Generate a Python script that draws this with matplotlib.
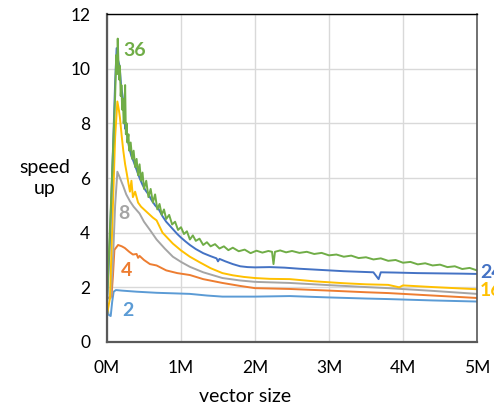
import numpy as np
import matplotlib
matplotlib.use("Agg")
import matplotlib.pyplot as plt

plt.rcParams['font.family'] = ['Lato', 'DejaVu Sans']

# vector size in millions, speed up per thread count
x2 = [0.0, 0.02, 0.05, 0.07, 0.09, 0.12, 0.2, 0.4, 0.67, 0.9, 1.12, 1.35, 1.56, 2.0, 2.47, 3.0, 3.5, 3.8, 4.4, 5.0]
y2 = [1.45, 1.0, 0.95, 1.47, 1.84, 1.9, 1.88, 1.84, 1.8, 1.78, 1.76, 1.7, 1.66, 1.66, 1.68, 1.63, 1.59, 1.57, 1.52, 1.48]

x4 = [0.0, 0.06, 0.08, 0.10, 0.15, 0.2, 0.24, 0.3, 0.35, 0.40, 0.42, 0.44, 0.5, 0.58, 0.67, 0.8, 0.95, 1.12, 1.3,
      1.56, 1.8, 2.0, 2.47, 3.0, 3.5, 3.8, 4.4, 5.0]
y4 = [1.6, 1.66, 2.4, 3.37, 3.55, 3.5, 3.44, 3.3, 3.2, 3.22, 3.08, 3.15, 3.0, 2.85, 2.8, 2.62, 2.52, 2.45, 2.3,
      2.16, 2.05, 1.97, 1.94, 1.88, 1.82, 1.79, 1.7, 1.61]

x8 = [0.0, 0.05, 0.08, 0.11, 0.14, 0.175, 0.22, 0.26, 0.31, 0.36, 0.44, 0.5, 0.58, 0.67, 0.78, 0.89, 1.0, 1.12,
      1.3, 1.56, 1.8, 2.0, 2.47, 3.0, 3.5, 3.8, 4.4, 5.0]
y8 = [1.6, 1.6, 3.0, 5.0, 6.23, 6.0, 5.7, 5.4, 5.15, 4.95, 4.7, 4.4, 4.1, 3.75, 3.42, 3.12, 2.93, 2.75,
      2.55, 2.34, 2.25, 2.2, 2.16, 2.08, 2.01, 1.97, 1.87, 1.76]

x16 = [0.0, 0.04, 0.08, 0.11, 0.14, 0.16, 0.175, 0.20, 0.22, 0.245, 0.265, 0.29, 0.31, 0.33, 0.35, 0.38, 0.42,
       0.46, 0.50, 0.56, 0.62, 0.67, 0.75, 0.82, 0.89, 1.00, 1.12, 1.25, 1.40, 1.56, 1.70, 1.85, 2.00, 2.20,
       2.47, 2.80, 3.20, 3.50, 3.80, 3.95, 4.00, 4.40, 5.00]
y16 = [1.0, 1.6, 5.0, 7.5, 8.8, 8.5, 8.2, 7.5, 7.0, 6.5, 6.2, 5.8, 5.5, 5.9, 5.3, 5.5, 5.1,
       4.95, 4.85, 4.7, 4.55, 4.45, 4.0, 3.8, 3.6, 3.35, 3.12, 2.92, 2.7, 2.52, 2.44, 2.38, 2.34, 2.31,
       2.3, 2.22, 2.15, 2.11, 2.09, 2.0, 2.07, 2.01, 1.93]

x24 = [0.0, 0.04, 0.08, 0.11, 0.13, 0.15, 0.17, 0.19, 0.21, 0.23, 0.245, 0.26, 0.28, 0.30, 0.33, 0.36, 0.40,
       0.44, 0.48, 0.52, 0.56, 0.60, 0.65, 0.70, 0.75, 0.80, 0.85, 0.90, 0.95, 1.00, 1.06, 1.12, 1.20, 1.30,
       1.40, 1.48, 1.50, 1.52, 1.60, 1.70, 1.80, 1.90, 2.00, 2.20, 2.40, 2.60, 2.80, 3.00, 3.20, 3.40, 3.60,
       3.67, 3.70, 3.90, 4.20, 4.50, 4.80, 5.00]
y24 = [1.4, 3.8, 7.0, 9.5, 10.75, 10.3, 10.1, 9.4, 9.0, 8.6, 7.8, 7.9, 7.4, 7.1, 6.8, 6.6, 6.3,
       6.0, 5.75, 5.55, 5.4, 5.2, 5.0, 4.85, 4.6, 4.4, 4.25, 4.1, 3.95, 3.82, 3.68, 3.55, 3.4, 3.25,
       3.14, 3.06, 2.95, 3.04, 2.95, 2.85, 2.77, 2.74, 2.73, 2.74, 2.72, 2.68, 2.65, 2.62, 2.59, 2.57, 2.55,
       2.3, 2.55, 2.54, 2.52, 2.51, 2.50, 2.49]

x36 = [0.00, 0.03, 0.06, 0.09, 0.11, 0.125, 0.135, 0.145, 0.155, 0.165, 0.175, 0.185, 0.195, 0.205, 0.215,
       0.225, 0.235, 0.245, 0.255, 0.265, 0.275, 0.29, 0.30, 0.32, 0.34, 0.36, 0.38, 0.40, 0.42, 0.44, 0.46,
       0.48, 0.50, 0.53, 0.56, 0.59, 0.62, 0.65, 0.68, 0.71, 0.74, 0.77, 0.80, 0.84, 0.88, 0.92, 0.96, 1.00,
       1.04, 1.08, 1.12, 1.16, 1.20, 1.25, 1.30, 1.35, 1.40, 1.46, 1.52, 1.58, 1.64, 1.70, 1.78, 1.86, 1.94,
       2.02, 2.10, 2.18, 2.23, 2.25, 2.27, 2.34, 2.42, 2.50, 2.60, 2.70, 2.80, 2.90, 3.00, 3.10, 3.20, 3.30,
       3.40, 3.50, 3.60, 3.70, 3.80, 3.90, 4.00, 4.10, 4.20, 4.30, 4.40, 4.50, 4.60, 4.70, 4.80, 4.90, 5.00]
y36 = [1.5, 3.5, 5.5, 7.6, 9.0, 10.5, 9.8, 11.1, 10.2, 9.6, 10.1, 9.0, 9.4, 8.5, 8.9,
       8.0, 8.3, 9.4, 7.6, 8.0, 7.3, 7.6, 7.0, 7.3, 6.7, 7.0, 6.4, 6.7, 6.1, 6.5, 5.9,
       6.2, 5.6, 5.9, 5.3, 5.6, 5.1, 5.4, 4.85, 5.05, 4.65, 4.85, 4.5, 4.65, 4.3, 4.4, 4.1, 4.2,
       3.95, 4.05, 3.75, 3.9, 3.7, 3.78, 3.55, 3.65, 3.5, 3.58, 3.42, 3.5, 3.36, 3.45, 3.32, 3.38, 3.25,
       3.34, 3.27, 3.33, 3.3, 2.85, 3.3, 3.35, 3.28, 3.33, 3.26, 3.3, 3.22, 3.26, 3.17, 3.2, 3.12, 3.16,
       3.07, 3.1, 3.02, 3.06, 2.97, 3.0, 2.9, 2.93, 2.84, 2.88, 2.8, 2.83, 2.74, 2.77, 2.67, 2.71, 2.62]

series = [
    ("2", x2, y2, "#5B9BD5"),
    ("4", x4, y4, "#ED7D31"),
    ("8", x8, y8, "#A5A5A5"),
    ("16", x16, y16, "#FFC000"),
    ("24", x24, y24, "#4472C4"),
    ("36", x36, y36, "#70AD47"),
]

# where the thread count labels sit (data coords)
label_pos = {"2": (0.21, 1.17), "4": (0.19, 2.63), "8": (0.15, 4.7),
             "16": (5.04, 1.9), "24": (5.04, 2.56), "36": (0.22, 10.68)}

fig = plt.figure(figsize=(4.94, 4.04), dpi=100)
ax = fig.add_axes([0.2166, 0.1535, 0.749, 0.8118])

for name, xs, ys, col in series:
    ax.plot(xs, ys, color=col, lw=1.4, solid_joinstyle="round")
    lx, ly = label_pos[name]
    ax.text(lx, ly, name, color=col, fontsize=14, fontweight="bold",
            va="center", ha="left", clip_on=False)

ax.set_xlim(0, 5)
ax.set_ylim(0, 12)
ax.set_xticks(range(6))
ax.set_xticklabels([f"{i}M" for i in range(6)])
ax.set_yticks(range(0, 13, 2))
ax.grid(True, color="#D9D9D9", lw=1.0)
ax.set_axisbelow(True)
ax.tick_params(length=0, labelsize=12.5, colors="black")
ax.tick_params(axis="y", pad=12)
ax.tick_params(axis="x", pad=13)

for s in ["left", "bottom"]:
    ax.spines[s].set_color("#595959")
    ax.spines[s].set_linewidth(1.6)
ax.spines["top"].set_color("black")
ax.spines["top"].set_linewidth(1.0)
ax.spines["right"].set_color("#595959")
ax.spines["right"].set_linewidth(1.2)

fig.text(45 / 494, 1 - 178 / 404, "speed\nup", fontsize=14, ha="center", va="center",
         linespacing=1.3)
fig.text(245 / 494, 1 - 397 / 404, "vector size", fontsize=14, ha="center", va="center")

fig.savefig("out.png", dpi=100)
